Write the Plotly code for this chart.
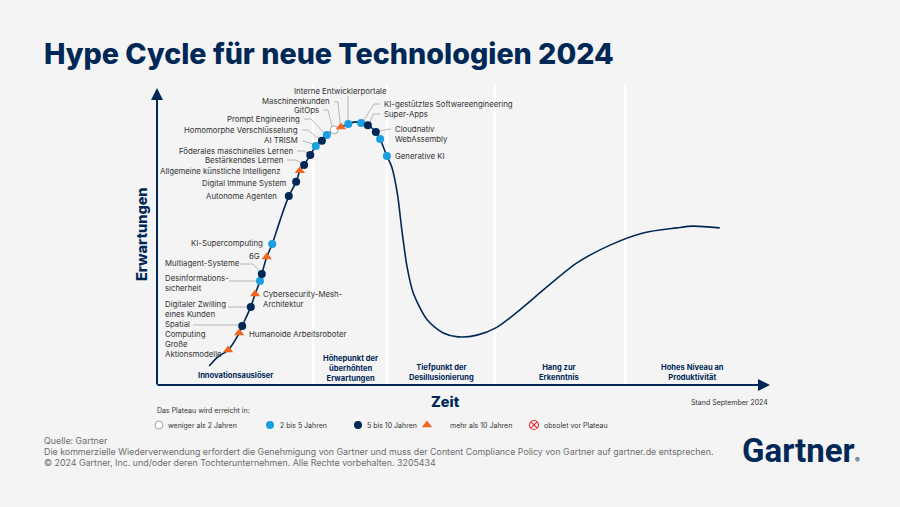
import plotly.graph_objects as go

# ---------------- DATA ----------------
# Hype curve (time 0..100 along the x axis, expectations 0..100 along y)
curve_time = [8.5, 9.9, 11.6, 13.4, 13.9, 15.3, 16.0, 16.8, 17.1, 17.9, 18.8, 20.1, 21.5, 22.7,
              23.3, 24.0, 25.0, 25.9, 26.9, 27.7, 28.9, 30.0, 31.2, 32.3, 33.3, 34.4, 35.7,
              36.4, 37.5, 38.3, 39.2, 40.0, 40.8, 41.8, 44.1, 46.7, 49.1, 52.2, 55.5, 59.2,
              63.6, 68.5, 73.9, 79.3, 84.8, 87.4, 91.8]
curve_expect = [6.4, 9.4, 11.8, 17.5, 19.9, 26.3, 30.6, 35.0, 37.4, 43.1, 47.5, 55.6, 63.6, 68.4,
                72.1, 74.1, 77.4, 80.5, 82.2, 84.2, 85.9, 86.9, 87.9, 88.6, 88.2, 87.5, 85.2,
                82.8, 77.1, 73.4, 64.6, 51.2, 39.7, 31.0, 21.9, 17.5, 16.2, 16.8, 19.5, 25.3,
                33.0, 41.1, 47.1, 51.2, 52.9, 53.5, 52.9]

tech_names = ["Große Aktionsmodelle", "Humanoide Arbeitsroboter", "Spatial Computing",
              "Digitaler Zwilling eines Kunden", "Cybersecurity-Mesh-Architektur",
              "Desinformationssicherheit", "Multiagent-Systeme", "6G", "KI-Supercomputing",
              "Autonome Agenten", "Digital Immune System", "Allgemeine künstliche Intelligenz",
              "Bestärkendes Lernen", "Föderales maschinelles Lernen", "AI TRISM",
              "Homomorphe Verschlüsselung", "Prompt Engineering", "GitOps", "Maschinenkunden",
              "Interne Entwicklerportale", "KI-gestütztes Softwareengineering", "Super-Apps",
              "Cloudnativ", "WebAssembly", "Generative KI"]
tech_time = [11.6, 13.4, 13.9, 15.3, 16.0, 16.8, 17.1, 17.9, 18.8, 21.5, 22.7, 23.3, 24.0,
             25.0, 25.9, 26.9, 27.7, 28.9, 30.0, 31.2, 33.3, 34.4, 35.7, 36.4, 37.5]
tech_expect = [11.8, 17.5, 19.9, 26.3, 30.6, 35.0, 37.4, 43.1, 47.5, 63.6, 68.4, 72.1, 74.1,
               77.4, 80.5, 82.2, 84.2, 85.9, 86.9, 87.9, 88.2, 87.5, 85.2, 82.8, 77.1]
tech_horizon = [">10", ">10", "5-10", "5-10", ">10", "2-5", "5-10", ">10", "2-5",
                "5-10", "5-10", ">10", "5-10", "5-10", "2-5", "5-10", "2-5", "<2", ">10",
                "2-5", "2-5", "5-10", "5-10", "2-5", "2-5"]

phase_names = ["Innovationsauslöser", "Höhepunkt der<br>überhöhten<br>Erwartungen",
               "Tiefpunkt der<br>Desillusionierung", "Hang zur<br>Erkenntnis",
               "Hohes Niveau an<br>Produktivität"]

legend_keys = ["<2", "2-5", "5-10", ">10", "obsolet"]
legend_labels = ["weniger als 2 Jahren", "2 bis 5 Jahren", "5 bis 10 Jahren",
                 "mehr als 10 Jahren", "obsolet vor Plateau"]

# ---------------- LAYOUT / STYLE ----------------
W, H = 900, 507
L_PX, R_PX, T_PX, B_PX = 157, 770, 88, 385  # axes box in pixels

NAVY = "#002856"
BLUE = "#1a9fe0"
ORANGE = "#f26522"
BG = "#f4f4f4"
TXT = "#333333"
GREY = "#6e6e6e"
LEADER = "#a8a8a8"
FONT = "Inter"
LINE_PITCH = 9.5
LABEL_SIZE = 7.8

def dx(px):
    return (px - L_PX) / (R_PX - L_PX) * 100.0

def dy(py):
    return (B_PX - py) / (B_PX - T_PX) * 100.0

style = {
    "<2": dict(symbol="circle", color="white", line=dict(color="#8c8c8c", width=0.8), size=8),
    "2-5": dict(symbol="circle", color=BLUE, line=dict(width=0), size=8),
    "5-10": dict(symbol="circle", color=NAVY, line=dict(width=0), size=8),
    ">10": dict(symbol="triangle-up", color=ORANGE, line=dict(width=0), size=9),
    "obsolet": dict(symbol="circle-x-open", color="#e0323c", line=dict(width=1.2, color="#e0323c"), size=9),
}

# label placement in pixels: (text lines, x, y of first line, xanchor, leader polyline points)
labels = {
    "Große Aktionsmodelle": (["Große", "Aktionsmodelle"], 163, 344, "left", None),
    "Humanoide Arbeitsroboter": (["Humanoide Arbeitsroboter"], 247, 334, "left", None),
    "Spatial Computing": (["Spatial", "Computing"], 163, 324, "left", [(193, 325), (239, 325)]),
    "Digitaler Zwilling eines Kunden": (["Digitaler Zwilling", "eines Kunden"], 163, 304, "left", [(228, 307), (247, 307)]),
    "Cybersecurity-Mesh-Architektur": (["Cybersecurity-Mesh-", "Architektur"], 261, 294, "left", None),
    "Desinformationssicherheit": (["Desinformations-", "sicherheit"], 163, 278, "left", [(229, 281), (256, 281)]),
    "Multiagent-Systeme": (["Multiagent-Systeme"], 163, 263, "left", [(240, 264), (253, 264), (259, 271)]),
    "6G": (["6G"], 262, 256, "right", None),
    "KI-Supercomputing": (["KI-Supercomputing"], 265, 243, "right", None),
    "Autonome Agenten": (["Autonome Agenten"], 279, 196, "right", None),
    "Digital Immune System": (["Digital Immune System"], 288, 183, "right", None),
    "Allgemeine künstliche Intelligenz": (["Allgemeine künstliche Intelligenz"], 282, 171, "right", None),
    "Bestärkendes Lernen": (["Bestärkendes Lernen"], 285, 160, "right", [(287, 160), (296, 160), (301, 163)]),
    "Föderales maschinelles Lernen": (["Föderales maschinelles Lernen"], 295, 151, "right", [(297, 151), (304, 151), (307, 153)]),
    "AI TRISM": (["AI TRISM"], 300, 140, "right", [(303, 141), (313, 144)]),
    "Homomorphe Verschlüsselung": (["Homomorphe Verschlüsselung"], 300, 130, "right", [(302, 130), (308, 130), (319, 139)]),
    "Prompt Engineering": (["Prompt Engineering"], 302, 119, "right", [(304, 119), (311, 119), (324, 133)]),
    "GitOps": (["GitOps"], 321, 110, "right", [(323, 110), (328, 110), (332, 127)]),
    "Maschinenkunden": (["Maschinenkunden"], 332, 101, "right", [(334, 102), (338, 102), (340, 123)]),
    "Interne Entwicklerportale": (["Interne Entwicklerportale"], 340, 91, "center", [(348, 96), (348, 120)]),
    "KI-gestütztes Softwareengineering": (["KI-gestütztes Softwareengineering"], 382, 104, "left", [(380, 104), (374, 104), (364, 120)]),
    "Super-Apps": (["Super-Apps"], 382, 114, "left", [(380, 114), (373, 114), (370, 122)]),
    "Cloudnativ": (["Cloudnativ"], 393, 129, "left", [(391, 129), (379, 131)]),
    "WebAssembly": (["WebAssembly"], 393, 139, "left", None),
    "Generative KI": (["Generative KI"], 393, 156, "left", None),
}

phase_pos = [(235, 375), (350, 368), (441, 372.5), (559, 372.5), (692, 372.5)]
separators_px = [313, 387, 495, 625]
legend_px = [(159, 166), (270, 278), (358, 365), (427, 448), (534, 542)]
LEG_Y = 425

fig = go.Figure()

# phase separators (white bands)
for sx in separators_px:
    fig.add_shape(type="line", x0=dx(sx), x1=dx(sx), y0=dy(B_PX - 1), y1=dy(84),
                  line=dict(color="white", width=2.5), layer="below")

# leader lines
for name in tech_names:
    lines, lx, ly, anc, lead = labels[name]
    if lead:
        fig.add_trace(go.Scatter(x=[dx(p[0]) for p in lead], y=[dy(p[1]) for p in lead],
                                 mode="lines", line=dict(color=LEADER, width=0.8),
                                 hoverinfo="skip", showlegend=False))

# curve
fig.add_trace(go.Scatter(x=curve_time, y=curve_expect, mode="lines",
                         line=dict(color=NAVY, width=1.6, shape="spline", smoothing=0.8),
                         hoverinfo="skip", showlegend=False))

# technology markers
for key in ["<2", "2-5", "5-10", ">10"]:
    idx = [i for i, h in enumerate(tech_horizon) if h == key]
    if not idx:
        continue
    st = style[key]
    fig.add_trace(go.Scatter(
        x=[tech_time[i] for i in idx], y=[tech_expect[i] for i in idx],
        mode="markers", text=[tech_names[i] for i in idx], hoverinfo="text",
        marker=dict(symbol=st["symbol"], color=st["color"], size=st["size"], line=st["line"]),
        showlegend=False))

ann = []
# tech labels (one annotation per text line for tight line spacing)
for name in tech_names:
    lines, lx, ly, anc, lead = labels[name]
    for k, ln in enumerate(lines):
        ann.append(dict(x=dx(lx), y=dy(ly + k * LINE_PITCH), xref="x", yref="y", text=ln,
                        showarrow=False, xanchor=anc, yanchor="middle",
                        font=dict(family=FONT, size=LABEL_SIZE, color=TXT)))

# phase labels
for (px, py), ph in zip(phase_pos, phase_names):
    ann.append(dict(x=dx(px), y=dy(py), xref="x", yref="y", text="<b>" + ph + "</b>",
                    showarrow=False, xanchor="center", yanchor="middle", align="center",
                    font=dict(family=FONT, size=7.6, color=NAVY)))

# axis arrows
ann.append(dict(x=0, y=dy(T_PX), ax=0, ay=dy(B_PX + 1), xref="x", yref="y", axref="x", ayref="y",
                showarrow=True, arrowhead=2, arrowsize=1.2, arrowwidth=2, arrowcolor=NAVY, text=""))
ann.append(dict(x=100, y=0, ax=dx(L_PX - 1), ay=0, xref="x", yref="y", axref="x", ayref="y",
                showarrow=True, arrowhead=2, arrowsize=1.2, arrowwidth=2, arrowcolor=NAVY, text=""))

# axis titles
ann.append(dict(x=dx(141), y=dy(234), xref="x", yref="y", text="Erwartungen", textangle=-90,
                showarrow=False, font=dict(family=FONT, size=14.5, color=NAVY, weight=800)))
ann.append(dict(x=dx(445), y=dy(401), xref="x", yref="y", text="Zeit",
                showarrow=False, font=dict(family=FONT, size=14.5, color=NAVY, weight=800)))
ann.append(dict(x=dx(770), y=dy(402), xref="x", yref="y", text="Stand September 2024", xanchor="right",
                showarrow=False, font=dict(family=FONT, size=7, color=TXT)))

# legend
ann.append(dict(x=dx(155), y=dy(410), xref="x", yref="y", text="Das Plateau wird erreicht in:",
                xanchor="left", showarrow=False, font=dict(family=FONT, size=7, color=TXT)))
for key, lab, (mx, tx) in zip(legend_keys, legend_labels, legend_px):
    st = style[key]
    fig.add_trace(go.Scatter(x=[dx(mx)], y=[dy(LEG_Y)], mode="markers",
                             marker=dict(symbol=st["symbol"], color=st["color"], size=st["size"], line=st["line"]),
                             hoverinfo="skip", showlegend=False))
    ann.append(dict(x=dx(tx), y=dy(LEG_Y), xref="x", yref="y", text=lab, xanchor="left",
                    showarrow=False, font=dict(family=FONT, size=7, color=TXT)))

# title
ann.append(dict(x=dx(42), y=dy(53), xref="x", yref="y", text="Hype Cycle für neue Technologien 2024",
                xanchor="left", yanchor="middle", showarrow=False,
                font=dict(family=FONT, size=28.7, color=NAVY, weight=800)))

# footer
footer = ["Quelle: Gartner",
          "Die kommerzielle Wiederverwendung erfordert die Genehmigung von Gartner und muss der Content Compliance Policy von Gartner auf gartner.de entsprechen.",
          "© 2024 Gartner, Inc. und/oder deren Tochterunternehmen. Alle Rechte vorbehalten. 3205434"]
for i, line in enumerate(footer):
    ann.append(dict(x=dx(42), y=dy(440 + 11 * i), xref="x", yref="y", text=line, xanchor="left",
                    showarrow=False, font=dict(family=FONT, size=8.85, color=GREY)))

# logo text
ann.append(dict(x=dx(740), y=dy(450), xref="x", yref="y", text="<b>Gartner</b>", xanchor="left",
                yanchor="middle", showarrow=False,
                font=dict(family="Roboto", size=33, color=NAVY)))
ann.append(dict(x=dx(853), y=dy(460), xref="x", yref="y", text="®", xanchor="left",
                yanchor="middle", showarrow=False, font=dict(family=FONT, size=7, color=NAVY)))

# the axes span the whole figure so every element lies inside the axis ranges
fig.update_layout(
    width=W, height=H, autosize=False,
    margin=dict(l=0, r=0, t=0, b=0, pad=0),
    paper_bgcolor=BG, plot_bgcolor=BG,
    xaxis=dict(range=[dx(0), dx(W)], visible=False, fixedrange=True),
    yaxis=dict(range=[dy(H), dy(0)], visible=False, fixedrange=True),
    annotations=ann, showlegend=False,
)

fig.write_html("out.html", config=dict(displayModeBar=False),
               post_script="document.body.style.margin='0px';document.body.style.background='%s';" % BG)
